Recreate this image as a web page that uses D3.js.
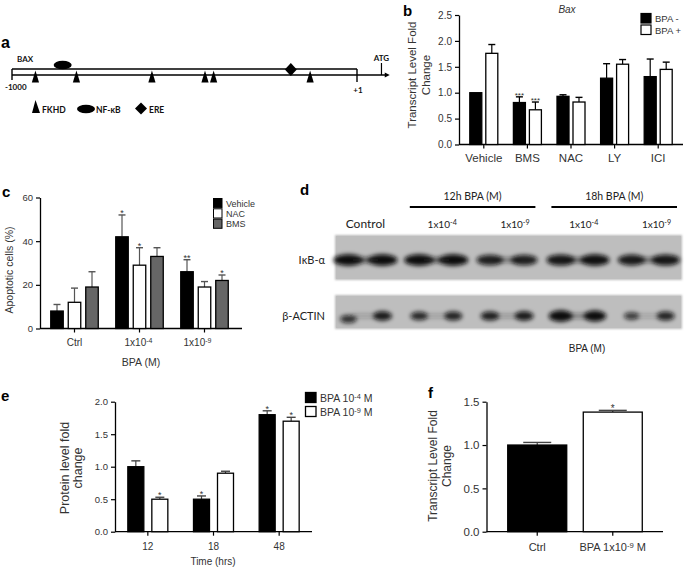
<!DOCTYPE html>
<html><head><meta charset="utf-8">
<script src="https://cdn.jsdelivr.net/npm/d3@7"></script>
<style>
body{margin:0;background:#fff;}
svg{display:block;}
</style></head><body>
<svg id="fig" width="685" height="569"></svg>
<script>
// ================= DATA =================
// panel a : BAX promoter map (bp positions)
const promoterRange = [-1000, 1];
const atgPosition = 72;
const arrowEndPosition = 96;
const fkhdSites = [-932, -813, -594, -440, -415, -135];
const nfkbSites = [-853];
const ereSites = [-191];
const aLegendLabels = ["FKHD", "NF-κB", "ERE"];

// panel b : Bax transcript level
const bCategories = ["Vehicle", "BMS", "NAC", "LY", "ICI"];
const bSeriesNames = ["BPA -", "BPA +"];
const bMinus = [1.0, 0.81, 0.93, 1.28, 1.31];
const bMinusErr = [0, 0.11, 0.03, 0.28, 0.34];
const bMinusSig = ["", "***", "", "", ""];
const bPlus = [1.76, 0.67, 0.82, 1.55, 1.45];
const bPlusErr = [0.17, 0.15, 0.09, 0.09, 0.14];
const bPlusSig = ["", "***", "", "", ""];
const bTicks = [0, 0.5, 1.0, 1.5, 2.0, 2.5];

// panel c : apoptotic cells
const cCategories = ["Ctrl", "1x10^-4", "1x10^-9"];
const cSeriesNames = ["Vehicle", "NAC", "BMS"];
const cVehicle = [8, 42, 26];
const cVehicleErr = [3, 10, 5.5];
const cVehicleSig = ["", "*", "**"];
const cNAC = [12, 29, 19];
const cNACErr = [6.5, 8, 2.5];
const cNACSig = ["", "*", ""];
const cBMS = [19, 33, 22];
const cBMSErr = [7, 4, 2.5];
const cBMSSig = ["", "", "*"];
const cTicks = [0, 20, 40, 60];

// panel d : western blot (relative band intensity, 2 lanes per condition)
const dConditions = ["Control", "1x10^-4", "1x10^-9", "1x10^-4", "1x10^-9"];
const dGroupLabels = ["12h BPA (M)", "18h BPA (M)"];
const dRows = ["IκB-α", "β-ACTIN"];
const ikbBands = [1.0, 1.0, 1.0, 1.0, 0.8, 0.8, 0.9, 0.95, 0.85, 0.9];
const actinBands = [0.6, 0.85, 0.7, 0.75, 0.8, 0.85, 1.3, 1.2, 0.5, 0.75];

// panel e : protein level
const eCategories = ["12", "18", "48"];
const eSeriesNames = ["BPA 10^-4 M", "BPA 10^-9 M"];
const eHigh = [1.0, 0.5, 1.8];
const eHighErr = [0.09, 0.05, 0.06];
const eHighSig = ["", "*", "*"];
const eLow = [0.5, 0.9, 1.7];
const eLowErr = [0.03, 0.03, 0.06];
const eLowSig = ["*", "", "*"];
const eTicks = [0, 0.5, 1.0, 1.5, 2.0];

// panel f : transcript level
const fCategories = ["Ctrl", "BPA 1x10^-9 M"];
const fValues = [1.0, 1.38];
const fErr = [0.03, 0.02];
const fSig = ["", "*"];
const fTicks = [0, 0.5, 1.0, 1.5];

// ================= DRAWING =================
const svg = d3.select("#fig");
const SANS = '"Liberation Sans", Arial, sans-serif';
const HUM = 'Lato, "Open Sans", sans-serif';
const TXT = "#333";

function richText(sel, str, supScale) {
  const parts = str.split(/(\^\S+)/).filter(s => s.length);
  parts.forEach(p => {
    if (p[0] === "^") {
      sel.append("tspan").attr("baseline-shift", "38%").attr("font-size", (supScale || 0.7) + "em").text(p.slice(1));
    } else {
      sel.append("tspan").text(p);
    }
  });
  return sel;
}

function letter(x, y, t, size) {
  svg.append("text").attr("x", x).attr("y", y).attr("font-family", SANS)
    .attr("font-size", size || 15).attr("font-weight", "bold").attr("fill", "#000").text(t);
}

function barChart(o) {
  const g = svg.append("g");
  const y = d3.scaleLinear().domain(o.yDomain).range([o.y0, o.y1]);
  const x = d3.scaleBand().domain(o.categories).range(o.xRange).padding(o.padding || 0);
  const ya = d3.axisLeft(y).tickValues(o.yTicks).tickFormat(o.yFormat).tickSize(4).tickSizeOuter(0).tickPadding(3);
  const yg = g.append("g").attr("transform", `translate(${o.axisX},0)`).call(ya);
  yg.select(".domain").attr("stroke", "#000").attr("stroke-width", 1.3);
  yg.selectAll(".tick line").attr("stroke", "#000").attr("stroke-width", 1.2);
  yg.selectAll("text").attr("font-family", SANS).attr("font-size", o.yFont).attr("fill", TXT);
  g.append("line").attr("x1", o.axisX).attr("x2", o.axisEnd).attr("y1", y(0)).attr("y2", y(0))
    .attr("stroke", "#000").attr("stroke-width", 1.3);
  o.categories.forEach(c => {
    const cx = x(c) + x.bandwidth() / 2;
    g.append("line").attr("x1", cx).attr("x2", cx).attr("y1", y(0)).attr("y2", y(0) + 4)
      .attr("stroke", "#000").attr("stroke-width", 1.2);
    const t = g.append("text").attr("x", cx + (o.labelShift ? o.labelShift(c) : 0)).attr("y", o.xLabelY)
      .attr("text-anchor", "middle").attr("font-family", SANS).attr("font-size", o.xFont).attr("fill", TXT);
    richText(t, c);
  });
  const n = o.series.length;
  o.series.forEach((s, si) => {
    const off = (si - (n - 1) / 2) * (o.barW + o.gap);
    o.categories.forEach((c, ci) => {
      const cx = x(c) + x.bandwidth() / 2 + off;
      const v = s.values[ci], e = s.errs[ci];
      if (e > 0) {
        g.append("line").attr("x1", cx).attr("x2", cx).attr("y1", y(v)).attr("y2", y(v + e))
          .attr("stroke", s.errColor || "#000").attr("stroke-width", 1.2);
        g.append("line").attr("x1", cx - o.capW / 2).attr("x2", cx + o.capW / 2).attr("y1", y(v + e)).attr("y2", y(v + e))
          .attr("stroke", s.errColor || "#000").attr("stroke-width", 1.4);
      }
      const fill = Array.isArray(s.fill) ? s.fill[ci] : s.fill;
      g.append("rect").attr("x", cx - o.barW / 2).attr("y", y(v)).attr("width", o.barW).attr("height", y(0) - y(v))
        .attr("fill", fill).attr("stroke", "#000").attr("stroke-width", 1.3);
      if (s.sigs[ci]) {
        g.append("text").attr("x", cx).attr("y", y(v + e) - 2 + o.starFont * 0.35).attr("text-anchor", "middle")
          .attr("font-family", SANS).attr("font-size", o.starFont).attr("fill", TXT).text(s.sigs[ci]);
      }
    });
  });
  return { x, y, g };
}

function yTitle(lines, cx, cy, size, lh) {
  lines.forEach((l, i) => {
    const xx = cx + (i - (lines.length - 1) / 2) * lh;
    svg.append("text").attr("transform", `translate(${xx},${cy}) rotate(-90)`).attr("text-anchor", "middle")
      .attr("dominant-baseline", "central").attr("font-family", SANS).attr("font-size", size).attr("fill", TXT).text(l);
  });
}

// ---------- panel a ----------
letter(1, 48, "a", 16);
(function () {
  const ax = d3.scaleLinear().domain(promoterRange).range([12, 357]);
  const g = svg.append("g");
  const yt = 69, yb = 75;
  g.append("line").attr("x1", ax(-1000)).attr("x2", ax(1)).attr("y1", yt).attr("y2", yt).attr("stroke", "#000").attr("stroke-width", 1.6);
  g.append("line").attr("x1", ax(-1000)).attr("x2", ax(arrowEndPosition) - 4).attr("y1", yb).attr("y2", yb).attr("stroke", "#000").attr("stroke-width", 1.6);
  g.append("line").attr("x1", ax(-1000)).attr("x2", ax(-1000)).attr("y1", yt).attr("y2", 80).attr("stroke", "#000").attr("stroke-width", 1.4);
  g.append("line").attr("x1", ax(1)).attr("x2", ax(1)).attr("y1", yt).attr("y2", 82).attr("stroke", "#000").attr("stroke-width", 1.4);
  g.append("line").attr("x1", ax(atgPosition)).attr("x2", ax(atgPosition)).attr("y1", 63).attr("y2", yb).attr("stroke", "#000").attr("stroke-width", 1.2);
  const ae = ax(arrowEndPosition);
  g.append("path").attr("d", `M${ae},${yb} L${ae - 5},${yb - 2.5} L${ae - 5},${yb + 2.5} Z`).attr("fill", "#000");
  fkhdSites.forEach(p => {
    const cx = ax(p);
    g.append("path").attr("d", `M${cx},${70.5} L${cx - 3.6},${82.5} L${cx + 3.6},${82.5} Z`).attr("fill", "#000");
  });
  nfkbSites.forEach(p => g.append("ellipse").attr("cx", ax(p)).attr("cy", 65).attr("rx", 9).attr("ry", 4.3).attr("fill", "#000"));
  ereSites.forEach(p => {
    const cx = ax(p), cy = 69.5;
    g.append("path").attr("d", `M${cx},${cy - 6.5} L${cx + 6},${cy} L${cx},${cy + 6.5} L${cx - 6},${cy} Z`).attr("fill", "#000");
  });
  const lab = (x, y, t, anchor, size) => g.append("text").attr("x", x).attr("y", y).attr("text-anchor", anchor || "start")
    .attr("font-family", HUM).attr("font-weight", "bold").attr("font-size", size || 8).attr("fill", "#111").text(t);
  lab(17, 62, "BAX");
  lab(5, 89.5, "-1000", "start");
  lab(ax(1) + 1, 93, "+1", "middle");
  lab(ax(atgPosition), 61, "ATG", "middle");
  g.append("path").attr("d", "M35.5,100 L32,113 L40,113 Z").attr("fill", "#000");
  lab(42, 113, aLegendLabels[0], "start", 8.5);
  g.append("ellipse").attr("cx", 86).attr("cy", 109).attr("rx", 9).attr("ry", 4.2).attr("fill", "#000");
  lab(96, 113, aLegendLabels[1], "start", 8.5);
  g.append("path").attr("d", "M141,102.5 L147,108.5 L141,114.5 L135,108.5 Z").attr("fill", "#000");
  lab(149, 113, aLegendLabels[2], "start", 8.5);
})();

// ---------- panel b ----------
letter(403, 16, "b", 15);
barChart({
  categories: bCategories, xRange: [462, 680], yDomain: [0, 2.5], y0: 144.5, y1: 15,
  yTicks: bTicks, yFormat: d3.format(".1f"), yFont: 10, xFont: 11.5, xLabelY: 162,
  axisX: 459, axisEnd: 683, barW: 12, gap: 4, capW: 7, starFont: 8,
  series: [
    { values: bMinus, errs: bMinusErr, sigs: bMinusSig, fill: "#000" },
    { values: bPlus, errs: bPlusErr, sigs: bPlusSig, fill: "#fff" }
  ]
});
yTitle(["Transcript Level Fold", "Change"], 419, 75, 11.5, 14);
svg.append("text").attr("x", 567).attr("y", 13).attr("text-anchor", "middle").attr("font-family", SANS)
  .attr("font-style", "italic").attr("font-size", 10).attr("fill", TXT).text("Bax");
bSeriesNames.forEach((nm, i) => {
  svg.append("rect").attr("x", 641).attr("y", 13.5 + i * 11.5).attr("width", 10).attr("height", 9.5)
    .attr("fill", i === 0 ? "#000" : "#fff").attr("stroke", "#000").attr("stroke-width", 1.2);
  svg.append("text").attr("x", 655).attr("y", 22 + i * 11.5).attr("font-family", SANS).attr("font-size", 9.5).attr("fill", TXT).text(nm);
});

// ---------- panel c ----------
letter(2, 197, "c", 15);
barChart({
  categories: cCategories, xRange: [42, 237], yDomain: [0, 60], y0: 328.5, y1: 197.5,
  yTicks: cTicks, yFormat: d3.format("d"), yFont: 9.5, xFont: 10, xLabelY: 346,
  axisX: 40, axisEnd: 242, barW: 12.5, gap: 5, capW: 7, starFont: 9,
  labelShift: c => (c === "1x10^-9" ? -7 : (c === "1x10^-4" ? -1 : 0)),
  series: [
    { values: cVehicle, errs: cVehicleErr, sigs: cVehicleSig, fill: "#000", errColor: "#555" },
    { values: cNAC, errs: cNACErr, sigs: cNACSig, fill: "#fff", errColor: "#555" },
    { values: cBMS, errs: cBMSErr, sigs: cBMSSig, fill: "#666", errColor: "#555" }
  ]
});
yTitle(["Apoptotic cells (%)"], 9, 270, 10.5, 0);
svg.append("text").attr("x", 141).attr("y", 366).attr("text-anchor", "middle").attr("font-family", SANS)
  .attr("font-size", 10.5).attr("fill", TXT).text("BPA (M)");
["#000", "#fff", "#666"].forEach((col, i) => {
  svg.append("rect").attr("x", 213.5).attr("y", 198.5 + i * 10.3).attr("width", 8.5).attr("height", 9.2)
    .attr("fill", col).attr("stroke", "#000").attr("stroke-width", 1);
  svg.append("text").attr("x", 226).attr("y", 206.5 + i * 10.3).attr("font-family", SANS).attr("font-size", 9).attr("fill", TXT).text(cSeriesNames[i]);
});

// ---------- panel d ----------
letter(300, 195, "d", 15);
(function () {
  const defs = svg.append("defs");
  defs.append("filter").attr("id", "bl").attr("x", "-60%").attr("y", "-150%").attr("width", "220%").attr("height", "400%")
    .append("feGaussianBlur").attr("stdDeviation", 2.2);
  defs.append("filter").attr("id", "bl2").attr("x", "-20%").attr("y", "-20%").attr("width", "140%").attr("height", "140%")
    .append("feGaussianBlur").attr("stdDeviation", 1.2);
  const gx = d3.scaleBand().domain(d3.range(dConditions.length)).range([330, 684]);
  const g = svg.append("g");
  dGroupLabels.forEach((lbl, i) => {
    const a = gx(1 + 2 * i), b = gx(2 + 2 * i) + gx.bandwidth();
    g.append("line").attr("x1", a + 9).attr("x2", b - 7).attr("y1", 207).attr("y2", 207).attr("stroke", "#000").attr("stroke-width", 2.2);
    g.append("text").attr("x", (a + b) / 2 + 1).attr("y", 200).attr("text-anchor", "middle").attr("font-family", HUM)
      .attr("font-size", 10.5).attr("fill", "#222").text(lbl);
  });
  dConditions.forEach((c, i) => {
    const cx = gx(i) + gx.bandwidth() / 2;
    const t = g.append("text").attr("x", cx + (i === 0 ? 0 : (i % 2 === 1 ? 6 : 8))).attr("y", 228).attr("text-anchor", "middle")
      .attr("font-family", HUM).attr("font-size", i === 0 ? 12 : 10).attr("fill", "#222");
    richText(t, c, 0.72);
  });
  const blots = [
    { y: 235, h: 45, bandY: 260, rx: 15, ry: 5.8, vals: ikbBands, bridge: 0.55 },
    { y: 295, h: 34, bandY: 316, rx: 10.5, ry: 5, vals: actinBands, bridge: 0.3 }
  ];
  blots.forEach((bl, bi) => {
    g.append("rect").attr("x", 335).attr("y", bl.y).attr("width", 347).attr("height", bl.h).attr("fill", "#bcbcbc")
      .attr("filter", "url(#bl2)");
    g.append("rect").attr("x", 336).attr("y", bl.y + 1).attr("width", 345).attr("height", bl.h - 2).attr("fill", "#bebebe");
    const bandsG = g.append("g").attr("filter", "url(#bl)");
    bl.vals.forEach((v, k) => {
      const grp = Math.floor(k / 2), side = k % 2 === 0 ? -1 : 1;
      const cx = gx(grp) + gx.bandwidth() / 2 + side * 17;
      const rx = bl.rx * (0.5 + 0.5 * v), ry = bl.ry * (0.55 + 0.45 * v);
      bandsG.append("ellipse").attr("cx", cx).attr("cy", bl.bandY + (bi === 1 && k === 0 ? 3 : 0)).attr("rx", rx).attr("ry", ry)
        .attr("fill", "#0a0a0a").attr("opacity", Math.min(1, 0.5 + 0.5 * v));
      if (side === 1) {
        const pv = (bl.vals[k - 1] + v) / 2;
        bandsG.append("rect").attr("x", cx - 30).attr("y", bl.bandY - ry * 0.5).attr("width", 26).attr("height", ry)
          .attr("fill", "#1a1a1a").attr("opacity", bl.bridge * pv);
      }
    });
    g.append("text").attr("x", 325).attr("y", bl.bandY + 4).attr("text-anchor", "end").attr("font-family", HUM)
      .attr("font-size", 11).attr("fill", "#222").text(dRows[bi]);
  });
  g.append("text").attr("x", 587).attr("y", 352).attr("text-anchor", "middle").attr("font-family", SANS)
    .attr("font-size", 10).attr("fill", "#222").text("BPA (M)");
})();

// ---------- panel e ----------
letter(1, 401, "e", 15);
barChart({
  categories: eCategories, xRange: [115, 312], yDomain: [0, 2.0], y0: 531.7, y1: 401.7,
  yTicks: eTicks, yFormat: d3.format(".1f"), yFont: 9.5, xFont: 10, xLabelY: 550,
  axisX: 115, axisEnd: 312, barW: 16, gap: 8, capW: 9, starFont: 9,
  series: [
    { values: eHigh, errs: eHighErr, sigs: eHighSig, fill: "#000", errColor: "#444" },
    { values: eLow, errs: eLowErr, sigs: eLowSig, fill: "#fff", errColor: "#444" }
  ]
});
yTitle(["Protein level fold", "change"], 71.5, 468, 12.5, 12.5);
svg.append("text").attr("x", 213).attr("y", 565).attr("text-anchor", "middle").attr("font-family", SANS)
  .attr("font-size", 10).attr("fill", TXT).text("Time (hrs)");
eSeriesNames.forEach((nm, i) => {
  svg.append("rect").attr("x", 305.5).attr("y", 392.5 + i * 14).attr("width", 10.5).attr("height", 10)
    .attr("fill", i === 0 ? "#000" : "#fff").attr("stroke", "#000").attr("stroke-width", 1.3);
  const t = svg.append("text").attr("x", 320).attr("y", 402 + i * 14).attr("font-family", SANS).attr("font-size", 10.5).attr("fill", TXT);
  richText(t, nm);
});

// ---------- panel f ----------
letter(428, 398, "f", 15);
barChart({
  categories: fCategories, xRange: [487, 663], padding: 0.33, yDomain: [0, 1.5], y0: 531.7, y1: 401.7,
  yTicks: fTicks, yFormat: d3.format(".1f"), yFont: 11.5, xFont: 11, xLabelY: 551,
  axisX: 486.5, axisEnd: 663, barW: 59, gap: 0, capW: 28, starFont: 10,
  series: [
    { values: fValues, errs: fErr, sigs: fSig, fill: ["#000", "#fff"], errColor: "#444" }
  ]
});
yTitle(["Transcript Level Fold", "Change"], 440, 466, 12, 14);
</script>
</body></html>
